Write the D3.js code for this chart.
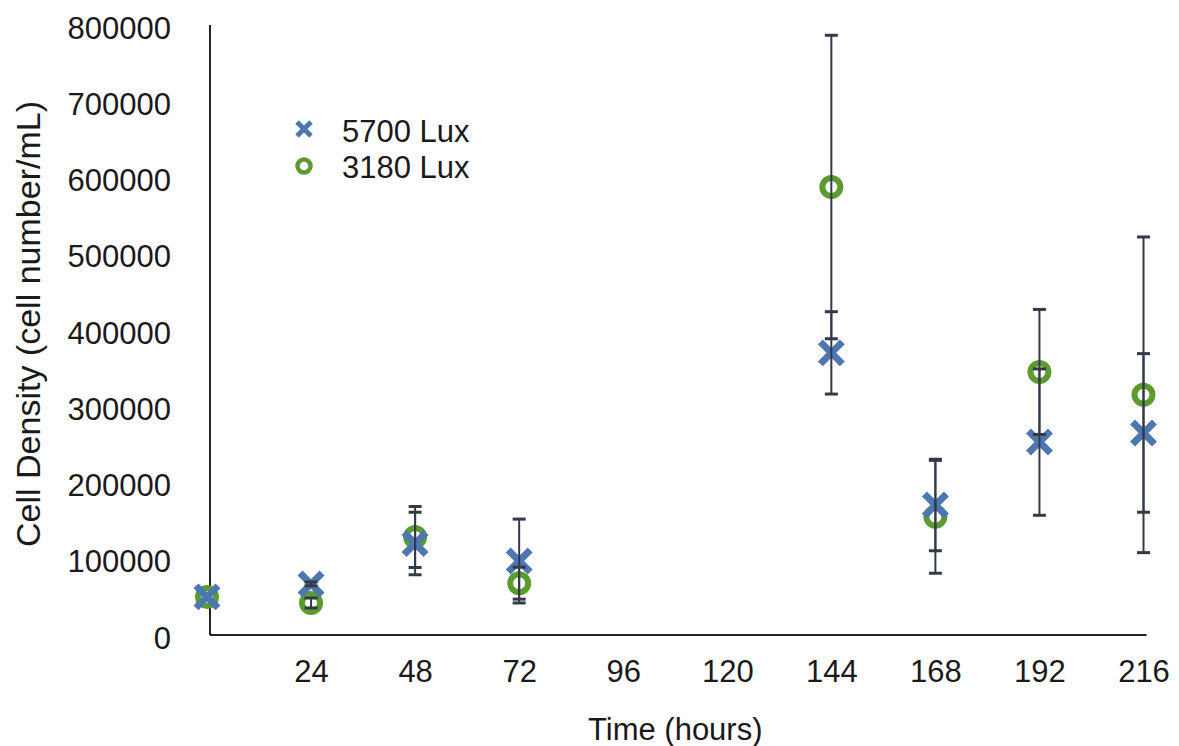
<!DOCTYPE html>
<html>
<head>
<meta charset="utf-8">
<script src="https://cdn.jsdelivr.net/npm/d3@7"></script>
<style>
  html, body { margin: 0; padding: 0; background: #fff; }
  svg text { font-family: "Liberation Sans", Arial, Helvetica, sans-serif; fill: #1a1a1a; }
</style>
</head>
<body>
<svg id="chart" width="1179" height="746"></svg>
<script>
// ---- data ----
const hours = [0, 24, 48, 72, 144, 168, 192, 216];
const lux5700 = [50000, 67000, 120000, 97000, 370000, 170500, 253000, 265000];
const lux5700Err = [0, 2500, 41000, 55000, 54000, 60000, 96000, 104000];
const lux3180 = [50000, 42000, 128500, 68000, 587500, 155000, 345000, 315000];
const lux3180Err = [0, 6500, 40000, 21000, 199000, 74000, 82000, 207000];
const xTicks = [24, 48, 72, 96, 120, 144, 168, 192, 216];
const yTicks = [0, 100000, 200000, 300000, 400000, 500000, 600000, 700000, 800000];
const seriesNames = ["5700 Lux", "3180 Lux"];

// ---- style ----
const blue = "#4d77b1";
const green = "#5b9b2f";
const errColor = "#333a47";
const fontSize = 31;

const svg = d3.select("#chart");
const x = d3.scaleLinear().domain([0, 216]).range([207, 1143.5]);
const y = d3.scaleLinear().domain([0, 800000]).range([635, 25]);

// axes
const xAxis = d3.axisBottom(x).tickValues(xTicks).tickSize(0).tickPadding(25).tickSizeOuter(0);
const gx = svg.append("g").attr("transform", `translate(0,${y(0)})`).call(xAxis);
gx.select(".domain").remove();
gx.selectAll("text").style("font-size", fontSize + "px").attr("fill", "#1a1a1a");

const yAxis = d3.axisLeft(y).tickValues(yTicks).tickSize(0).tickPadding(39).tickSizeOuter(0)
  .tickFormat(d3.format("d"));
const gy = svg.append("g").attr("transform", `translate(${x(0) + 3},0)`).call(yAxis);
gy.select(".domain").remove();
gy.selectAll("text").style("font-size", fontSize + "px").attr("dy", "0.42em").attr("fill", "#1a1a1a");

// axis lines
svg.append("line").attr("x1", x(0) + 3).attr("x2", x(0) + 3).attr("y1", y(800000)).attr("y2", y(0))
  .attr("stroke", "#222").attr("stroke-width", 2);
svg.append("line").attr("x1", x(0) + 3).attr("x2", x(216) + 3).attr("y1", y(0)).attr("y2", y(0))
  .attr("stroke", "#222").attr("stroke-width", 2);

// axis titles
svg.append("text").attr("x", (x(0) + x(216)) / 2).attr("y", 740)
  .attr("text-anchor", "middle").style("font-size", fontSize + "px").text("Time (hours)");
svg.append("text").attr("transform", `translate(40,324) rotate(-90)`)
  .attr("text-anchor", "middle").style("font-size", "34px").text("Cell Density (cell number/mL)");

// markers
const greenData = hours.map((h, i) => ({ h, v: lux3180[i], e: lux3180Err[i] }));
const blueData = hours.map((h, i) => ({ h, v: lux5700[i], e: lux5700Err[i] }));

svg.append("g").selectAll("circle").data(greenData).join("circle")
  .attr("cx", d => x(d.h)).attr("cy", d => y(d.v)).attr("r", 9)
  .attr("fill", "none").attr("stroke", green).attr("stroke-width", 6);

svg.append("g").selectAll("path").data(blueData).join("path")
  .attr("transform", d => `translate(${x(d.h)},${y(d.v)})`)
  .attr("d", "M-11,-11L11,11M-11,11L11,-11")
  .attr("fill", "none").attr("stroke", blue).attr("stroke-width", 7);

// error bars
const errData = blueData.concat(greenData).filter(d => d.e > 0);
const eg = svg.append("g").attr("stroke", errColor).attr("stroke-width", 2).attr("fill", "none");
eg.selectAll("line.v").data(errData).join("line").attr("class", "v")
  .attr("x1", d => x(d.h)).attr("x2", d => x(d.h))
  .attr("y1", d => y(d.v + d.e)).attr("y2", d => y(d.v - d.e));
eg.selectAll("line.t").data(errData).join("line").attr("class", "t")
  .attr("x1", d => x(d.h) - 6.5).attr("x2", d => x(d.h) + 6.5)
  .attr("y1", d => y(d.v + d.e)).attr("y2", d => y(d.v + d.e)).attr("stroke-width", 3);
eg.selectAll("line.b").data(errData).join("line").attr("class", "b")
  .attr("x1", d => x(d.h) - 6.5).attr("x2", d => x(d.h) + 6.5)
  .attr("y1", d => y(d.v - d.e)).attr("y2", d => y(d.v - d.e)).attr("stroke-width", 3);

// legend
const lg = svg.append("g");
lg.append("path").attr("transform", "translate(304,129)")
  .attr("d", "M-7,-7L7,7M-7,7L7,-7").attr("stroke", blue).attr("stroke-width", 5).attr("fill", "none");
lg.append("circle").attr("cx", 304).attr("cy", 166).attr("r", 6.5)
  .attr("fill", "none").attr("stroke", green).attr("stroke-width", 4.5);
lg.selectAll("text").data(seriesNames).join("text")
  .attr("x", 342).attr("y", (d, i) => 131 + i * 36).attr("dy", "0.35em")
  .style("font-size", fontSize + "px").text(d => d);
</script>
</body>
</html>
